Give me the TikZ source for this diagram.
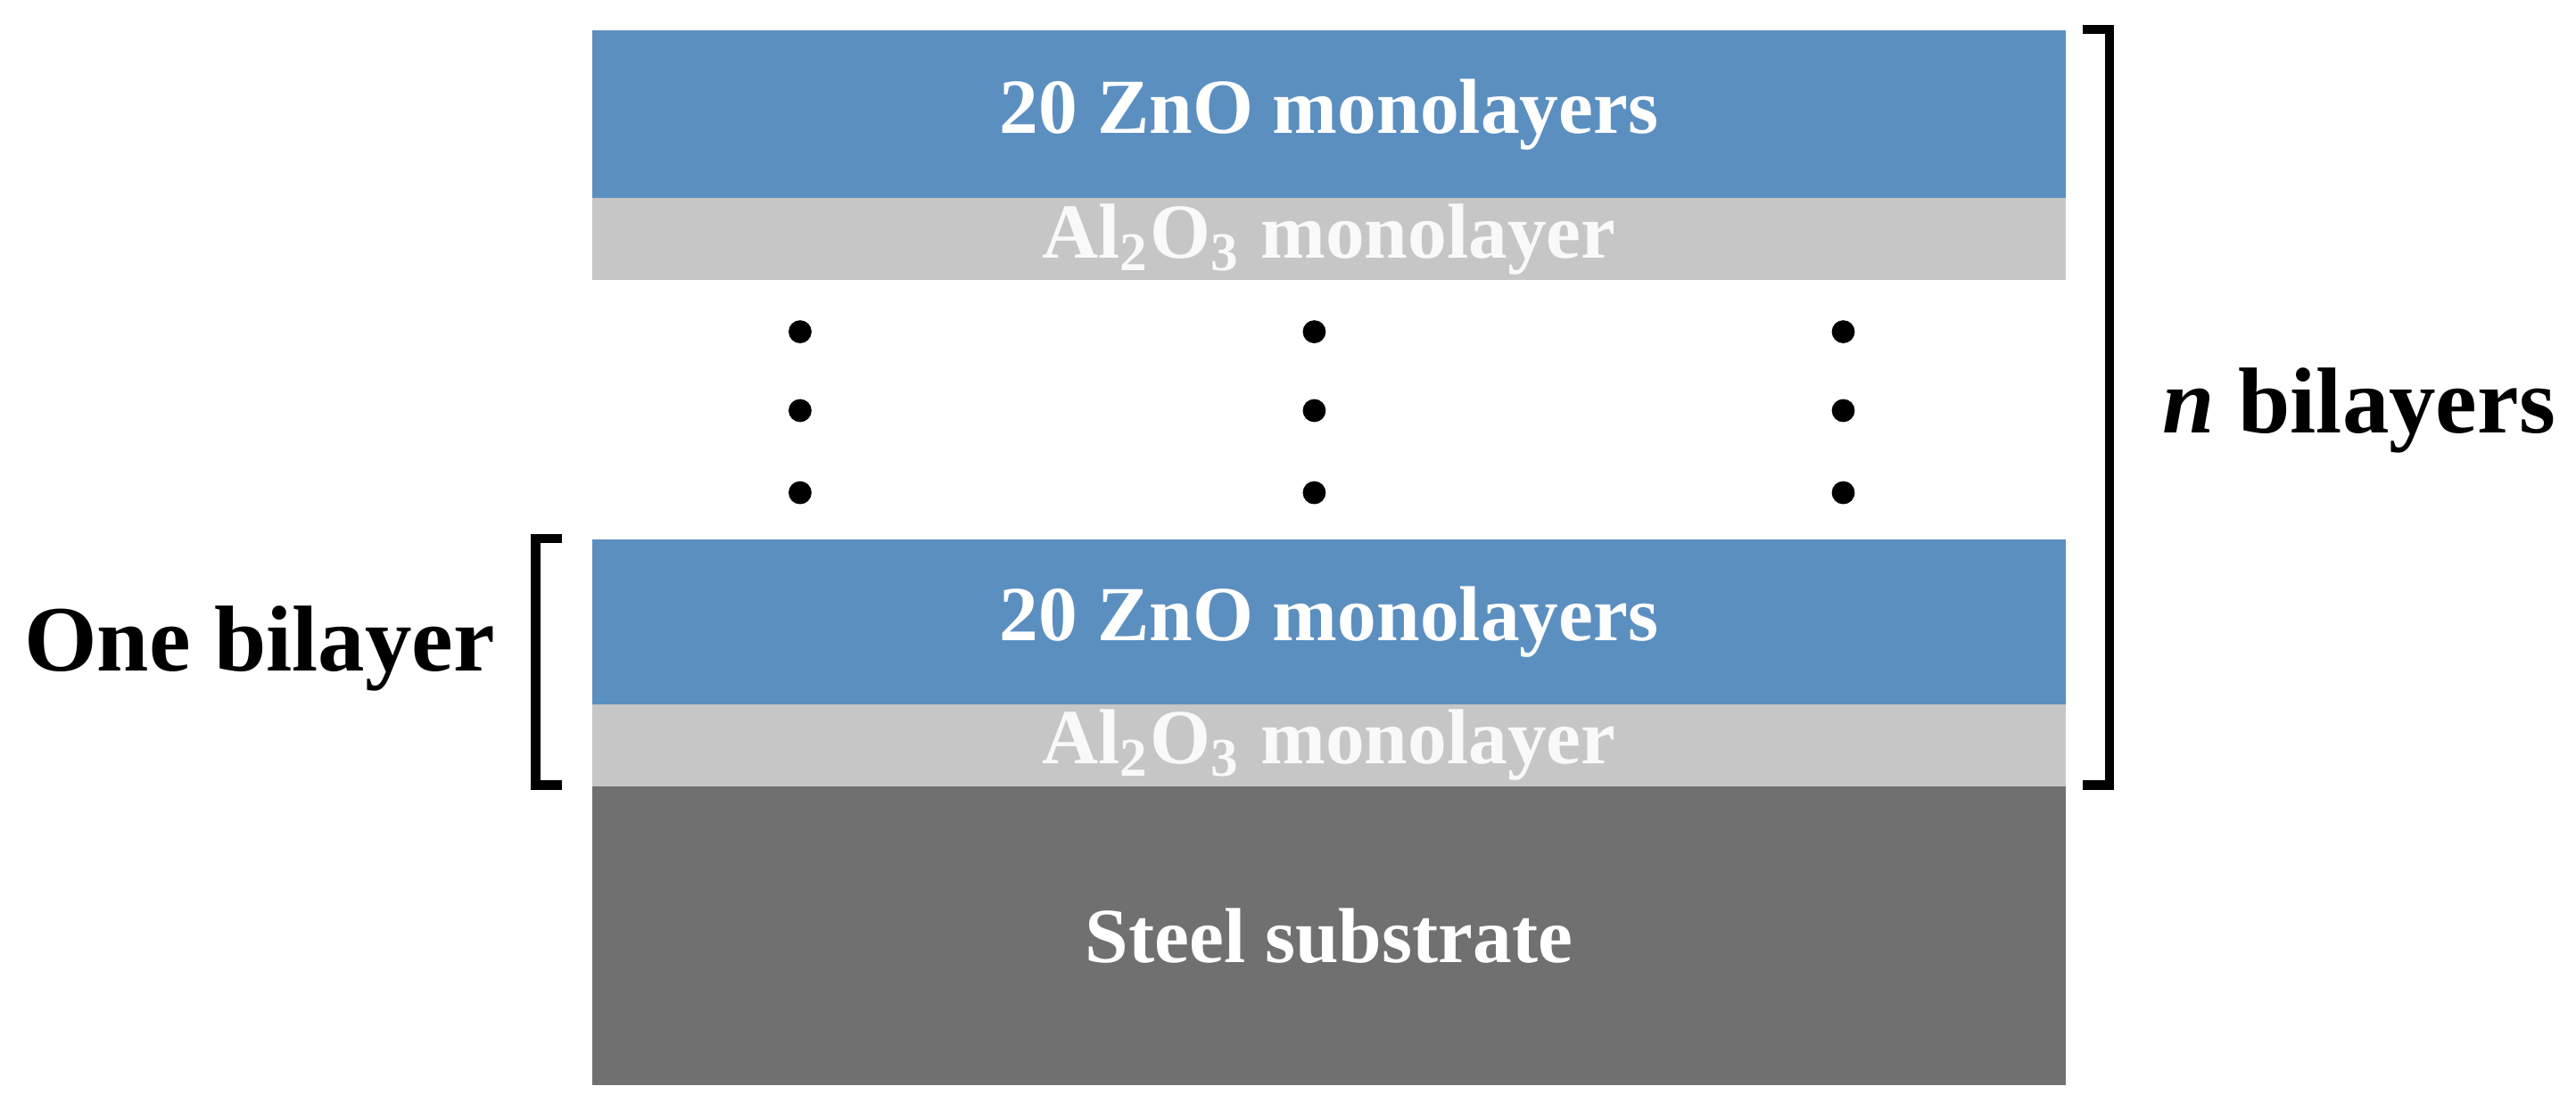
\documentclass[tikz,border=0pt]{standalone}
\usepackage{fontspec}
\setmainfont{Liberation Serif}
\definecolor{zno}{HTML}{5B8FC0}
\definecolor{alo}{HTML}{C6C6C6}
\definecolor{steel}{HTML}{707070}
\begin{document}
\begin{tikzpicture}[x=0.01cm,y=-0.01cm,
  layer/.style={draw=none,minimum width=8.96cm,inner sep=0pt,anchor=north west,text=white,font=\bfseries\fontsize{13.5}{15}\selectfont},
  brk/.style={line width=1.6pt},
  dot/.style={circle,fill=black,inner sep=0pt,minimum size=0.14cm}]
\useasboundingbox (0,0) rectangle (1568,681);
\node[layer,fill=zno,minimum height=1.02cm] (z1) at (360,18) {20 ZnO monolayers};
\node[layer,fill=alo,minimum height=0.5cm,text=white!95!gray] (a1) at (360,120) {Al\textsubscript{2}O\textsubscript{3} monolayer};
\node[layer,fill=zno,minimum height=1.0cm] (z2) at (360,328) {20 ZnO monolayers};
\node[layer,fill=alo,minimum height=0.5cm,text=white!95!gray] (a2) at (360,428) {Al\textsubscript{2}O\textsubscript{3} monolayer};
\node[layer,fill=steel,minimum height=1.82cm] (s) at (360,478) {Steel substrate};
\foreach \x in {487,800,1122}\foreach \y in {202,250,300}\node[dot] at (\x,\y) {};
\draw[brk] (1268,18) -- (1284,18) -- (1284,478) -- (1268,478);
\draw[brk] (342,328) -- (326,328) -- (326,478) -- (342,478);
\node[font=\bfseries\fontsize{16.2}{18}\selectfont] (n) at (1436,250) {\textit{n} bilayers};
\node[font=\bfseries\fontsize{16.2}{18}\selectfont] (o) at (158,395) {One bilayer};
\end{tikzpicture}
\end{document}
